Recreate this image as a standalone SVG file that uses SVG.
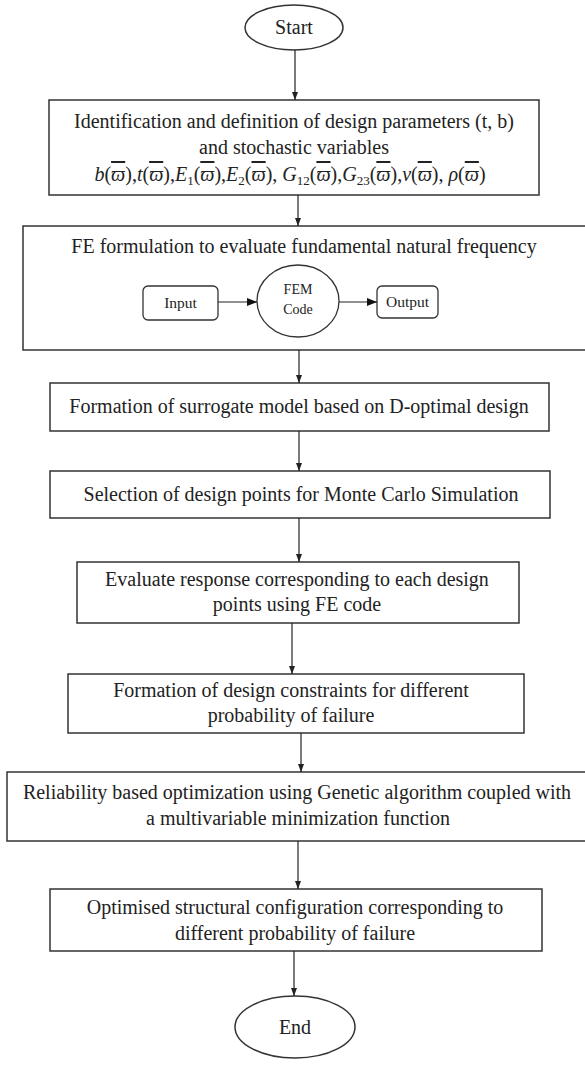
<svg xmlns="http://www.w3.org/2000/svg" width="585" height="1066" viewBox="0 0 585 1066">
<style>
.box{fill:#fff;stroke:#333;stroke-width:1.5}
.sm{fill:#fff;stroke:#333;stroke-width:1.3}
.t{font-size:20px;fill:#222;text-anchor:middle}
.ts{font-size:15.5px;fill:#222;text-anchor:middle}
.tc{font-size:14px;fill:#222;text-anchor:middle}
.m{font-style:italic}
.ob{text-decoration:overline}
.c{stroke:#222;stroke-width:1.2;fill:none}
</style>
<defs>
<marker id="ah" markerWidth="8" markerHeight="6" refX="8" refY="3" orient="auto" markerUnits="userSpaceOnUse">
<path d="M0,0 L8,3 L0,6 z" fill="#222"/>
</marker>
<marker id="ahb" markerWidth="10" markerHeight="8" refX="10" refY="4" orient="auto" markerUnits="userSpaceOnUse">
<path d="M0,0 L10,4 L0,8 z" fill="#111"/>
</marker>
</defs>
<rect fill="#fff" x="0" y="0" width="585" height="1066"/>
<g font-family="'Liberation Serif', 'Times New Roman', serif">

<g id="start">
<ellipse class="box" cx="294" cy="27.5" rx="49" ry="22.5"/>
<text class="t" x="294" y="34">Start</text>
</g>

<g id="box1">
<rect class="box" x="49" y="100" width="490" height="95"/>
<text class="t" x="294" y="128">Identification and definition of design parameters (t, b)</text>
<text class="t" x="294" y="154">and stochastic variables</text>
<text class="t" x="290" y="181"><tspan class="m">b</tspan>(<tspan class="m ob">ϖ</tspan>),<tspan class="m">t</tspan>(<tspan class="m ob">ϖ</tspan>),<tspan class="m">E</tspan><tspan font-size="13" dy="4">1</tspan><tspan dy="-4">(</tspan><tspan class="m ob">ϖ</tspan>),<tspan class="m">E</tspan><tspan font-size="13" dy="4">2</tspan><tspan dy="-4">(</tspan><tspan class="m ob">ϖ</tspan>), <tspan class="m">G</tspan><tspan font-size="13" dy="4">12</tspan><tspan dy="-4">(</tspan><tspan class="m ob">ϖ</tspan>),<tspan class="m">G</tspan><tspan font-size="13" dy="4">23</tspan><tspan dy="-4">(</tspan><tspan class="m ob">ϖ</tspan>),<tspan class="m">ν</tspan>(<tspan class="m ob">ϖ</tspan>), <tspan class="m">ρ</tspan>(<tspan class="m ob">ϖ</tspan>)</text>
</g>

<g id="box2">
<rect class="box" x="23" y="226" width="580" height="124"/>
<text class="t" x="304" y="253">FE formulation to evaluate fundamental natural frequency</text>
</g>

<g id="input">
<rect class="sm" x="143" y="286" width="75" height="34" rx="5"/>
<text class="ts" x="180.5" y="308">Input</text>
</g>

<g id="fem">
<ellipse class="sm" cx="298" cy="301" rx="41" ry="36"/>
<text class="tc" x="298" y="294">FEM</text>
<text class="tc" x="298" y="314">Code</text>
</g>

<g id="output">
<rect class="sm" x="377" y="286" width="61" height="32" rx="5"/>
<text class="ts" x="407.5" y="307">Output</text>
</g>

<g id="box3">
<rect class="box" x="50" y="383" width="499" height="48"/>
<text class="t" x="299" y="413">Formation of surrogate model based on D-optimal design</text>
</g>

<g id="box4">
<rect class="box" x="50" y="471" width="500" height="47"/>
<text class="t" x="301" y="501">Selection of design points for Monte Carlo Simulation</text>
</g>

<g id="box5">
<rect class="box" x="77" y="562" width="442" height="61"/>
<text class="t" x="297" y="586">Evaluate response corresponding to each design</text>
<text class="t" x="297" y="611">points using FE code</text>
</g>

<g id="box6">
<rect class="box" x="68" y="674" width="456" height="59"/>
<text class="t" x="291" y="697">Formation of design constraints for different</text>
<text class="t" x="291" y="722">probability of failure</text>
</g>

<g id="box7">
<rect class="box" x="7" y="772" width="590" height="69"/>
<text class="t" x="297" y="799">Reliability based optimization using Genetic algorithm coupled with</text>
<text class="t" x="298" y="825">a multivariable minimization function</text>
</g>

<g id="box8">
<rect class="box" x="50" y="889" width="492" height="62"/>
<text class="t" x="295" y="914">Optimised structural configuration corresponding to</text>
<text class="t" x="295" y="940">different probability of failure</text>
</g>

<g id="end">
<ellipse class="box" cx="295" cy="1027" rx="60" ry="31"/>
<text class="t" x="295" y="1034">End</text>
</g>
</g>

<g id="connectors">
<line class="c" x1="295" y1="50" x2="295" y2="100" marker-end="url(#ah)"/>
<line class="c" x1="298" y1="195" x2="298" y2="226" marker-end="url(#ah)"/>
<line class="c" x1="299" y1="350" x2="299" y2="383" marker-end="url(#ah)"/>
<line class="c" x1="299" y1="431" x2="299" y2="471" marker-end="url(#ah)"/>
<line class="c" x1="299" y1="518" x2="299" y2="562" marker-end="url(#ah)"/>
<line class="c" x1="292" y1="623" x2="292" y2="674" marker-end="url(#ah)"/>
<line class="c" x1="301" y1="733" x2="301" y2="772" marker-end="url(#ah)"/>
<line class="c" x1="298" y1="841" x2="298" y2="889" marker-end="url(#ah)"/>
<line class="c" x1="294" y1="951" x2="294" y2="996" marker-end="url(#ah)"/>
<line class="c" x1="218" y1="302" x2="257" y2="302" marker-end="url(#ahb)"/>
<line class="c" x1="339" y1="302" x2="377" y2="302" marker-end="url(#ahb)"/>
</g>
</svg>
